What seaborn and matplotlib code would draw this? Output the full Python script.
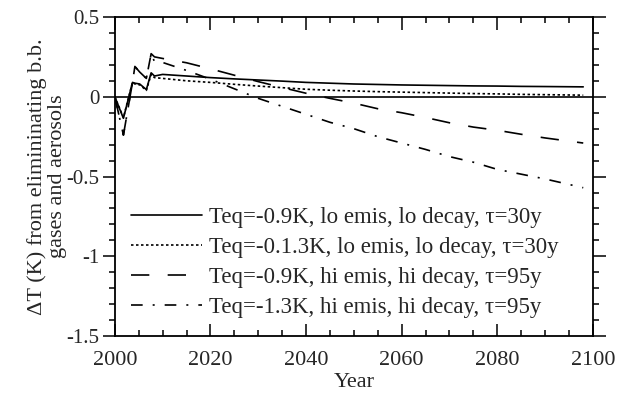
import matplotlib
matplotlib.use("Agg")
import matplotlib.pyplot as plt
from matplotlib.ticker import MultipleLocator, FuncFormatter
import numpy as np
import pandas as pd
import seaborn as sns

# Years and temperature change (K) for each scenario
years_early = [2000, 2001.8, 2003.7, 2004.2, 2005.2, 2006.6, 2007.6, 2008.3]
years_late = [2010, 2015, 2020, 2025, 2030, 2035, 2040, 2045, 2050, 2055,
              2060, 2065, 2070, 2075, 2080, 2085, 2090, 2098]

lo_09 = [0, -0.135, 0.09, 0.085, 0.08, 0.045, 0.15, 0.13,
         0.14, 0.13, 0.12, 0.112, 0.105, 0.098, 0.09, 0.085, 0.08, 0.077,
         0.074, 0.072, 0.07, 0.068, 0.067, 0.065, 0.064, 0.062]
lo_13 = [0, -0.13, 0.09, 0.08, 0.075, 0.04, 0.14, 0.12,
         0.115, 0.1, 0.09, 0.078, 0.067, 0.057, 0.047, 0.041, 0.036, 0.032,
         0.029, 0.026, 0.023, 0.02, 0.018, 0.015, 0.013, 0.01]
hi_09 = [0, -0.24, 0.09, 0.19, 0.155, 0.115, 0.27, 0.25,
         0.24, 0.213, 0.175, 0.135, 0.095, 0.058, 0.022, -0.01, -0.04, -0.075,
         -0.1, -0.13, -0.163, -0.19, -0.21, -0.235, -0.258, -0.29]
hi_13 = [0, -0.24, 0.09, 0.19, 0.155, 0.115, 0.27, 0.22,
         0.215, 0.165, 0.11, 0.05, -0.01, -0.06, -0.11, -0.16, -0.2, -0.25,
         -0.29, -0.33, -0.375, -0.41, -0.455, -0.485, -0.515, -0.57]

labels = [
    "Teq=-0.9K, lo emis, lo decay, \u03c4=30y",
    "Teq=-0.1.3K, lo emis, lo decay, \u03c4=30y",
    "Teq=-0.9K, hi emis, hi decay, \u03c4=95y",
    "Teq=-1.3K, hi emis, hi decay, \u03c4=95y",
]

years = years_early + years_late
df = pd.concat([
    pd.DataFrame({"Year": years, "dT": vals, "Scenario": lab})
    for vals, lab in zip([lo_09, lo_13, hi_09, hi_13], labels)
], ignore_index=True)

sns.set_style("ticks")
plt.rcParams["font.family"] = ["Liberation Serif", "DejaVu Serif"]
plt.rcParams["axes.unicode_minus"] = False

FS = 16

fig = plt.figure(figsize=(6.24, 4.04), dpi=100)
ax = fig.add_axes([0.184, 0.168, 0.766, 0.79])

dash_styles = {
    labels[0]: "",
    labels[1]: (1.5, 1.5),
    labels[2]: (11, 11),
    labels[3]: (7, 6, 1.2, 6),
}
sns.lineplot(data=df, x="Year", y="dT", hue="Scenario", style="Scenario",
             palette=["black"] * 4, dashes=dash_styles, linewidth=1.2,
             sort=False, estimator=None, ax=ax)

ax.axhline(0, color="black", linewidth=1.2, zorder=1)

ax.set_xlim(2000, 2100)
ax.set_ylim(-1.5, 0.5)
ax.xaxis.set_major_locator(MultipleLocator(20))
ax.xaxis.set_minor_locator(MultipleLocator(5))
ax.yaxis.set_major_locator(MultipleLocator(0.5))
ax.yaxis.set_minor_locator(MultipleLocator(0.1))
ax.yaxis.set_major_formatter(FuncFormatter(lambda v, p: f"{v:g}"))

for s in ax.spines.values():
    s.set_visible(True)
    s.set_linewidth(1.3)
    s.set_color("black")

ax.tick_params(axis="x", which="both", direction="in", top=True, bottom=True,
               color="black", width=1.1, labelsize=FS, pad=11)
ax.tick_params(axis="x", which="major", length=9)
ax.tick_params(axis="x", which="minor", length=4.5)
ax.tick_params(axis="y", which="both", direction="out", left=True, right=True,
               color="black", width=1.1, labelsize=15, pad=2)
ax.tick_params(axis="y", which="major", length=9)
ax.tick_params(axis="y", which="minor", length=4.5)

ax.set_xlabel("Year", fontsize=FS, labelpad=2)
ax.set_ylabel("\u0394T (K) from elimininating b.b.\ngases and aerosols",
              fontsize=FS, linespacing=1.05)
ax.yaxis.set_label_coords(-0.1, 0.5)

leg = ax.legend(loc="lower left", frameon=False, fontsize=16.5,
                handlelength=3.1, handletextpad=0.3, labelspacing=0.4,
                borderaxespad=0.3, bbox_to_anchor=(0.0, 0.005))
for line in leg.get_lines():
    line.set_linewidth(1.2)

fig.savefig("out.png", dpi=100)
